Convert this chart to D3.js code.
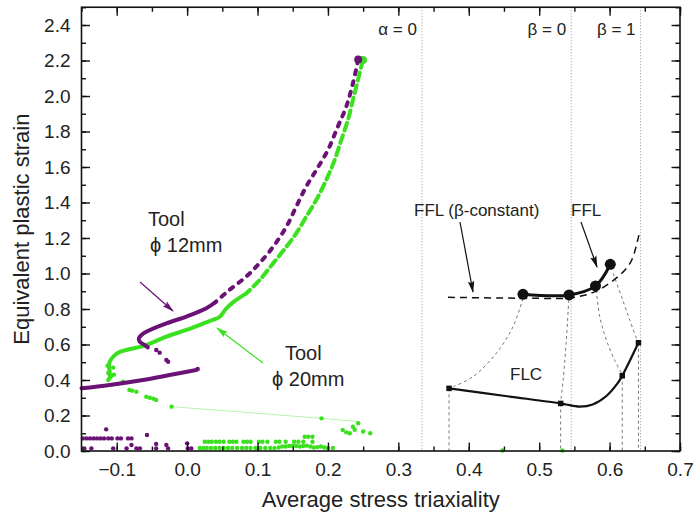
<!DOCTYPE html>
<html>
<head>
<meta charset="utf-8">
<script src="https://cdn.jsdelivr.net/npm/d3@7"></script>
<style>
  body { margin: 0; background: #fff; }
  svg { display: block; font-family: "Liberation Sans", Arial, sans-serif; }
</style>
</head>
<body>
<div id="chart"></div>
<script>
// ---- values ----
const xTickValues = [-0.1, 0.0, 0.1, 0.2, 0.3, 0.4, 0.5, 0.6, 0.7];
const yTickValues = [0.0, 0.2, 0.4, 0.6, 0.8, 1.0, 1.2, 1.4, 1.6, 1.8, 2.0, 2.2, 2.4];

// Tool phi 12mm (purple)
const purpleUpper = [[0.243, 2.205], [0.2355, 2.072], [0.226, 1.94], [0.214, 1.827], [0.200, 1.696],
  [0.1835, 1.583], [0.169, 1.489], [0.155, 1.377], [0.141, 1.264], [0.122, 1.150], [0.103, 1.059],
  [0.084, 0.983], [0.060, 0.907], [0.040, 0.838]];
const purpleHook = [[0.040, 0.838], [0.0273, 0.804], [-0.001, 0.757], [-0.0295, 0.719], [-0.058, 0.672],
  [-0.065, 0.653], [-0.0685, 0.635], [-0.0675, 0.616], [-0.060, 0.597], [-0.0557, 0.584]];
const purpleLower = [[-0.150, 0.353], [-0.110, 0.372], [-0.0628, 0.400], [-0.0249, 0.428], [0.013, 0.456]];
const purpleDots = [[-0.0438, 0.569], [-0.039, 0.554], [-0.0295, 0.513], [-0.027, 0.503], [0.015, 0.462],
  [-0.148, 0.071], [-0.143, 0.071], [-0.138, 0.071], [-0.133, 0.071], [-0.128, 0.071], [-0.123, 0.071],
  [-0.118, 0.071], [-0.112, 0.071], [-0.107, 0.071], [-0.099, 0.071], [-0.094, 0.071], [-0.084, 0.071],
  [-0.079, 0.071], [-0.115, 0.122], [-0.057, 0.090], [-0.146, 0.015], [-0.136, 0.015], [-0.105, 0.015],
  [-0.086, 0.015], [-0.072, 0.015], [-0.067, 0.015], [-0.044, 0.015], [-0.027, 0.015], [0.001, 0.015],
  [0.006, 0.015], [-0.079, 0.034], [-0.044, 0.040], [-0.0295, 0.034], [0.000, 0.043]];

// Tool phi 20mm (green)
const greenUpper = [[0.2497, 2.203], [0.2426, 2.09], [0.2355, 1.977], [0.2284, 1.865], [0.2189, 1.752],
  [0.2095, 1.639], [0.1976, 1.527], [0.1834, 1.414], [0.1692, 1.32], [0.1549, 1.226], [0.1409, 1.15],
  [0.1219, 1.056], [0.103, 0.963], [0.0841, 0.888]];
const greenHook = [[0.0841, 0.888], [0.066, 0.84], [0.055, 0.80], [0.046, 0.755], [0.036, 0.738],
  [0.0273, 0.725], [-0.001, 0.682], [-0.0295, 0.644], [-0.058, 0.597], [-0.0864, 0.569], [-0.098, 0.554],
  [-0.105, 0.531], [-0.110, 0.503], [-0.111, 0.475], [-0.110, 0.447], [-0.110, 0.41]];
const greenDots = [[-0.113, 0.48], [-0.105, 0.47], [-0.112, 0.44], [-0.104, 0.43], [-0.108, 0.42],
  [-0.112, 0.40], [-0.091, 0.390], [-0.082, 0.344], [-0.078, 0.340], [-0.072, 0.334], [-0.058, 0.306],
  [-0.053, 0.300], [-0.048, 0.295], [-0.044, 0.287], [-0.022, 0.250], [0.191, 0.184],
  [0.221, 0.118], [0.231, 0.100], [0.2355, 0.137], [0.243, 0.156], [0.238, 0.12], [0.226, 0.105],
  [0.25, 0.11], [0.26, 0.10],
  [0.025, 0.052], [0.030, 0.052], [0.035, 0.052], [0.041, 0.052], [0.046, 0.052], [0.052, 0.052],
  [0.060, 0.052], [0.065, 0.052], [0.070, 0.052], [0.080, 0.052], [0.085, 0.052], [0.090, 0.052],
  [0.102, 0.052], [0.107, 0.052], [0.114, 0.052], [0.126, 0.052], [0.131, 0.052], [0.140, 0.052],
  [0.152, 0.052], [0.158, 0.052], [0.167, 0.080], [0.172, 0.080], [0.178, 0.080], [0.165, 0.052],
  [0.178, 0.052],
  [0.018, 0.017], [0.023, 0.017], [0.028, 0.017], [0.034, 0.017], [0.040, 0.017], [0.046, 0.017],
  [0.052, 0.017], [0.058, 0.017], [0.064, 0.017], [0.071, 0.017], [0.078, 0.017], [0.084, 0.017],
  [0.090, 0.017], [0.097, 0.017], [0.104, 0.017], [0.111, 0.017], [0.118, 0.017], [0.124, 0.017],
  [0.130, 0.020], [0.135, 0.025], [0.140, 0.025], [0.145, 0.028], [0.150, 0.030], [0.155, 0.028],
  [0.160, 0.025], [0.165, 0.028], [0.170, 0.030], [0.175, 0.025], [0.180, 0.020], [0.185, 0.022],
  [0.190, 0.025], [0.195, 0.020], [0.200, 0.017], [0.207, 0.017],
  [0.448, 0.003], [0.533, 0.003]];
const greenFaint = [[-0.022, 0.250], [0.191, 0.184], [0.245, 0.165]];

// FFL / FLC
const fflPoints = [[0.477, 0.883], [0.5424, 0.879], [0.580, 0.930], [0.601, 1.052]];
const fflConstant = [[0.3705, 0.866], [0.444, 0.862], [0.50, 0.860], [0.542, 0.862], [0.576, 0.892],
  [0.605, 0.96], [0.629, 1.057], [0.640, 1.189], [0.643, 1.245]];
const flcPoints = [[0.372, 0.353], [0.5305, 0.268], [0.618, 0.424], [0.641, 0.610]];
const flcCurve = [[0.372, 0.353], [0.452, 0.31], [0.5305, 0.268], [0.5386, 0.262], [0.5575, 0.25],
  [0.576, 0.262], [0.5955, 0.31], [0.612, 0.385], [0.618, 0.424], [0.641, 0.610]];
const connectors = [
  [[0.477, 0.860], [0.4628, 0.700], [0.439, 0.550], [0.406, 0.419], [0.378, 0.362]],
  [[0.542, 0.851], [0.5386, 0.625], [0.534, 0.400], [0.5305, 0.278]],
  [[0.581, 0.907], [0.586, 0.757], [0.5955, 0.625], [0.607, 0.513], [0.617, 0.438]],
  [[0.605, 1.001], [0.617, 0.869], [0.6286, 0.738], [0.639, 0.625]]
];
const refLines = [0.3335, 0.5455, 0.644];
const refLabels = ["α = 0", "β = 0", "β = 1"];

// ---- layout ----
const width = 694, height = 520;
const purple = "#6b1276", green = "#3be01f";

const svg = d3.select("#chart").append("svg")
  .attr("width", width)
  .attr("height", height);

svg.append("rect").attr("width", width).attr("height", height).attr("fill", "#fff");

const x = d3.scaleLinear().domain([-0.15, 0.7]).range([81.5, 680]);
const y = d3.scaleLinear().domain([0, 2.5]).range([451, 7.25]);

const defs = svg.append("defs");
function arrowMarker(id, color) {
  defs.append("marker")
    .attr("id", id)
    .attr("viewBox", "0 0 12 8")
    .attr("refX", 11).attr("refY", 4)
    .attr("markerUnits", "userSpaceOnUse")
    .attr("markerWidth", 12).attr("markerHeight", 8)
    .attr("orient", "auto")
    .append("path").attr("d", "M0,0.8 L12,4 L0,7.2 L2,4 z").attr("fill", color);
}
arrowMarker("arrowBlack", "#111");
arrowMarker("arrowPurple", purple);
arrowMarker("arrowGreen", green);

const line = d3.line().x(d => x(d[0])).y(d => y(d[1])).curve(d3.curveCatmullRom);
const straight = d3.line().x(d => x(d[0])).y(d => y(d[1]));

// reference lines (alpha = 0, beta = 0, beta = 1)
svg.selectAll(".refLine")
  .data(refLines)
  .join("line")
  .attr("class", "refLine")
  .attr("x1", d => x(d)).attr("x2", d => x(d))
  .attr("y1", y(2.5)).attr("y2", y(0))
  .attr("stroke", "#999").attr("stroke-width", 1).attr("stroke-dasharray", "1,2");

svg.selectAll(".refLabel")
  .data(refLines)
  .join("text")
  .attr("class", "refLabel")
  .attr("x", d => x(d) - 5)
  .attr("y", 35)
  .attr("text-anchor", "end")
  .attr("font-size", 17)
  .attr("fill", "#222")
  .text((d, i) => refLabels[i]);

// gray dashed connectors between FFL and FLC, and drops to the axis
connectors.forEach(c => {
  svg.append("path").attr("d", line(c))
    .attr("fill", "none").attr("stroke", "#777").attr("stroke-width", 1).attr("stroke-dasharray", "3,3");
});
flcPoints.forEach(p => {
  svg.append("line")
    .attr("x1", x(p[0])).attr("x2", x(p[0]))
    .attr("y1", y(p[1])).attr("y2", y(0))
    .attr("stroke", "#777").attr("stroke-width", 1).attr("stroke-dasharray", "3,3");
});

// faint green trace
svg.append("path").attr("d", straight(greenFaint))
  .attr("fill", "none").attr("stroke", green).attr("stroke-width", 0.8).attr("opacity", 0.45);

// green series
svg.append("path").attr("d", line(greenUpper))
  .attr("fill", "none").attr("stroke", green).attr("stroke-width", 4)
  .attr("stroke-linecap", "round").attr("stroke-dasharray", "8,5");
svg.append("path").attr("d", line(greenHook))
  .attr("fill", "none").attr("stroke", green).attr("stroke-width", 4).attr("stroke-linecap", "round");
svg.selectAll(".greenDot")
  .data(greenDots)
  .join("circle")
  .attr("class", "greenDot")
  .attr("cx", d => x(d[0])).attr("cy", d => y(d[1]))
  .attr("r", 2.2).attr("fill", green);
svg.append("circle").attr("cx", x(greenUpper[0][0])).attr("cy", y(greenUpper[0][1])).attr("r", 4).attr("fill", green);

// purple series
svg.append("path").attr("d", line(purpleUpper))
  .attr("fill", "none").attr("stroke", purple).attr("stroke-width", 4)
  .attr("stroke-linecap", "round").attr("stroke-dasharray", "4,7");
svg.append("path").attr("d", line(purpleHook))
  .attr("fill", "none").attr("stroke", purple).attr("stroke-width", 4).attr("stroke-linecap", "round");
svg.append("path").attr("d", line(purpleLower))
  .attr("fill", "none").attr("stroke", purple).attr("stroke-width", 4).attr("stroke-linecap", "round");
svg.selectAll(".purpleDot")
  .data(purpleDots)
  .join("circle")
  .attr("class", "purpleDot")
  .attr("cx", d => x(d[0])).attr("cy", d => y(d[1]))
  .attr("r", 2.2).attr("fill", purple);
svg.append("circle").attr("cx", x(purpleUpper[0][0])).attr("cy", y(purpleUpper[0][1])).attr("r", 4).attr("fill", purple);

// FFL (beta-constant) dashed curve
svg.append("path").attr("d", line(fflConstant))
  .attr("fill", "none").attr("stroke", "#111").attr("stroke-width", 1.5).attr("stroke-dasharray", "7,5");

// FFL solid line + big dots
svg.append("path").attr("d", line(fflPoints))
  .attr("fill", "none").attr("stroke", "#111").attr("stroke-width", 3);
svg.selectAll(".fflDot")
  .data(fflPoints)
  .join("circle")
  .attr("class", "fflDot")
  .attr("cx", d => x(d[0])).attr("cy", d => y(d[1]))
  .attr("r", 5.5).attr("fill", "#111");

// FLC line + squares
svg.append("path").attr("d", line(flcCurve))
  .attr("fill", "none").attr("stroke", "#111").attr("stroke-width", 2.2);
svg.selectAll(".flcSquare")
  .data(flcPoints)
  .join("rect")
  .attr("class", "flcSquare")
  .attr("x", d => x(d[0]) - 2.75).attr("y", d => y(d[1]) - 2.75)
  .attr("width", 5.5).attr("height", 5.5).attr("fill", "#111");

// ---- annotations ----
function addText(tx, ty, str, size, color) {
  svg.append("text").attr("x", tx).attr("y", ty)
    .attr("font-size", size).attr("fill", color || "#222").text(str);
}
function addArrow(x1, y1, x2, y2, color, marker) {
  svg.append("line").attr("x1", x1).attr("y1", y1).attr("x2", x2).attr("y2", y2)
    .attr("stroke", color).attr("stroke-width", 1.2).attr("marker-end", `url(#${marker})`);
}

addText(414, 216, "FFL (β-constant)", 17);
addArrow(460, 222, 473, 292, "#111", "arrowBlack");
addText(571, 216, "FFL", 17);
addArrow(581, 222, 597, 267, "#111", "arrowBlack");
addText(510, 380, "FLC", 17);

addText(148, 226, "Tool", 20);
addText(150, 252, "ϕ 12mm", 20);
addArrow(140, 282, 173, 311, purple, "arrowPurple");

addText(285, 360, "Tool", 20);
addText(272, 386, "ϕ 20mm", 20);
addArrow(263, 363, 217, 328, green, "arrowGreen");

// ---- axes (ticks inside, on all four sides) ----
const xMinor = d3.range(-0.15, 0.701, 0.05);
const yMinor = d3.range(0, 2.501, 0.1);

function styleAxis(g) {
  g.select(".domain").remove();
  g.selectAll(".tick line").attr("stroke", "#111").attr("stroke-width", 1.4);
  g.selectAll(".tick text").attr("font-size", 19).attr("fill", "#222")
    .attr("font-family", "Liberation Sans, Arial, sans-serif");
}

svg.append("g").attr("transform", `translate(0,${y(0)})`)
  .call(d3.axisBottom(x).tickValues(xMinor).tickSize(-4.5).tickFormat("")).call(styleAxis);
svg.append("g").attr("transform", `translate(0,${y(0)})`)
  .call(d3.axisBottom(x).tickValues(xTickValues).tickSize(-8.5).tickPadding(12).tickFormat(d3.format(".1f")))
  .call(styleAxis);
svg.append("g").attr("transform", `translate(0,${y(2.5)})`)
  .call(d3.axisTop(x).tickValues(xMinor).tickSize(-4.5).tickFormat("")).call(styleAxis);
svg.append("g").attr("transform", `translate(0,${y(2.5)})`)
  .call(d3.axisTop(x).tickValues(xTickValues).tickSize(-8.5).tickFormat("")).call(styleAxis);

svg.append("g").attr("transform", `translate(${x(-0.15)},0)`)
  .call(d3.axisLeft(y).tickValues(yMinor).tickSize(-4.5).tickFormat("")).call(styleAxis);
svg.append("g").attr("transform", `translate(${x(-0.15)},0)`)
  .call(d3.axisLeft(y).tickValues(yTickValues).tickSize(-8.5).tickPadding(11).tickFormat(d3.format(".1f")))
  .call(styleAxis);
svg.append("g").attr("transform", `translate(${x(0.7)},0)`)
  .call(d3.axisRight(y).tickValues(yMinor).tickSize(-4.5).tickFormat("")).call(styleAxis);
svg.append("g").attr("transform", `translate(${x(0.7)},0)`)
  .call(d3.axisRight(y).tickValues(yTickValues).tickSize(-8.5).tickFormat("")).call(styleAxis);

// frame
svg.append("rect")
  .attr("x", x(-0.15)).attr("y", y(2.5))
  .attr("width", x(0.7) - x(-0.15)).attr("height", y(0) - y(2.5))
  .attr("fill", "none").attr("stroke", "#111").attr("stroke-width", 1.6);

// axis titles
svg.append("text")
  .attr("x", (x(-0.15) + x(0.7)) / 2).attr("y", 507)
  .attr("text-anchor", "middle").attr("font-size", 22).attr("fill", "#222")
  .text("Average stress triaxiality");
svg.append("text")
  .attr("transform", `translate(29,${(y(0) + y(2.5)) / 2}) rotate(-90)`)
  .attr("text-anchor", "middle").attr("font-size", 22).attr("fill", "#222")
  .text("Equivalent plastic strain");
</script>
</body>
</html>
